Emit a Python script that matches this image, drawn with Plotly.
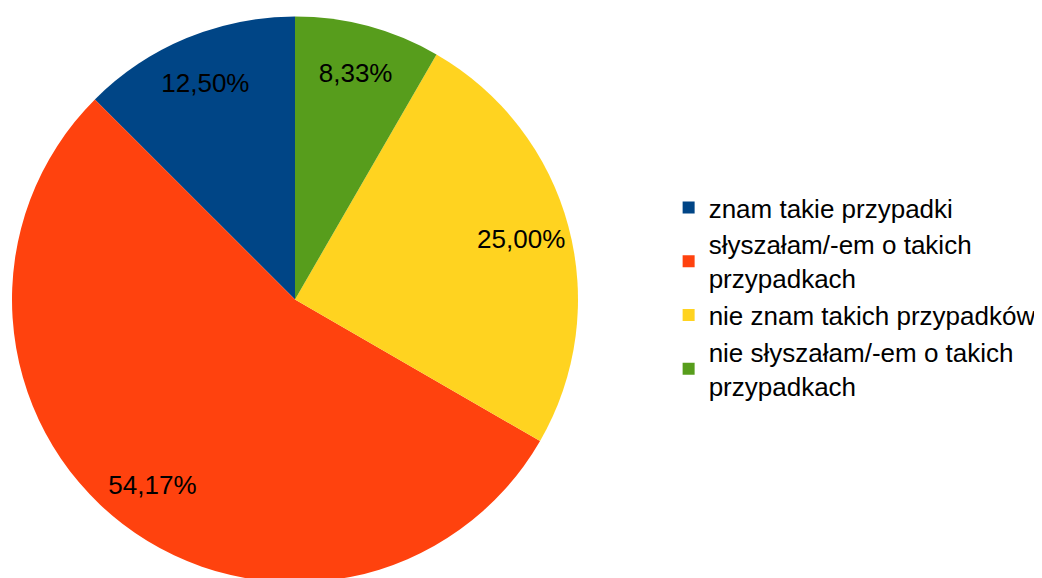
import plotly.graph_objects as go

categories = ["znam takie przypadki", "słyszałam/-em o takich<br>przypadkach",
              "nie znam takich przypadków", "nie słyszałam/-em o takich<br>przypadkach"]
values = [3, 13, 6, 2]
colors = ["#004586", "#ff420e", "#ffd320", "#579d1c"]

dom = dict(x=[4/1042, 570/1042], y=[0, 1])

fig = go.Figure()
fig.add_trace(go.Pie(
    labels=categories, values=values, sort=False, direction="counterclockwise",
    rotation=-45, marker=dict(colors=colors, line=dict(width=0)),
    textinfo="none", hoverinfo="label+percent",
    domain=dom,
))
fig.add_trace(go.Pie(
    labels=categories, values=values, sort=False, direction="counterclockwise",
    rotation=-45, hole=0.655, showlegend=False,
    marker=dict(colors=["rgba(0,0,0,0)"]*4, line=dict(width=0)),
    texttemplate="%{percent:.2%}", textposition="inside",
    insidetextorientation="horizontal",
    textfont=dict(family="Liberation Sans", size=26, color="#000000"),
    hoverinfo="skip",
    domain=dom,
))
fig.update_layout(
    width=1042, height=578, separators=", ",
    margin=dict(l=0, r=0, t=5, b=0),
    paper_bgcolor="white", plot_bgcolor="white",
    uniformtext=dict(minsize=26, mode="show"),
    legend=dict(x=0.634, y=0.505, xanchor="left", yanchor="middle",
                font=dict(family="Liberation Sans", size=26, color="#000000"),
                tracegroupgap=0, itemwidth=30),
)
fig.write_html("out.html")
